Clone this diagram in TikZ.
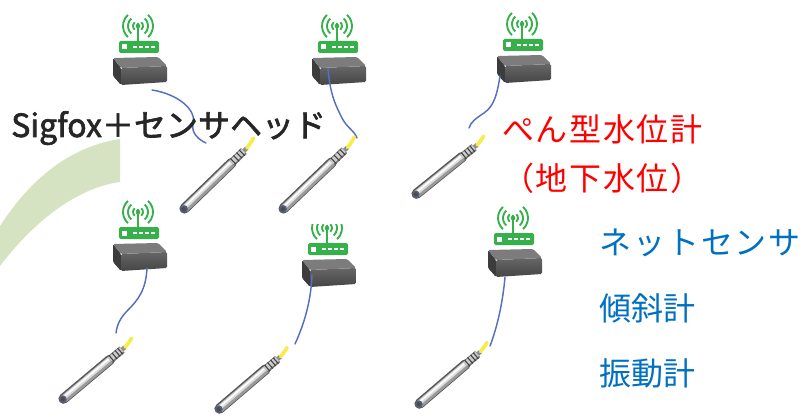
\documentclass[tikz,border=0pt]{standalone}
\usepackage{fontspec}
\newfontfamily\jp{Noto Sans CJK JP}
\newfontfamily\jpheavy[FakeBold=2]{Noto Sans CJK JP}
\definecolor{wifigreen}{HTML}{35B04A}
\definecolor{boxtop}{HTML}{7C7C7C}
\definecolor{boxfronttop}{HTML}{666666}
\definecolor{boxfrontbot}{HTML}{454545}
\definecolor{boxside}{HTML}{3C3C3C}
\definecolor{cableblue}{HTML}{5670C0}
\definecolor{capyellow}{HTML}{F6EC4C}
\definecolor{leafgreen}{HTML}{D5E3C2}
\definecolor{labelred}{HTML}{FF0000}
\definecolor{labelblue}{HTML}{0070C0}
\definecolor{penedge}{HTML}{555555}
\definecolor{penmid}{HTML}{9A9A9A}
\definecolor{penlight}{HTML}{DCDCDC}
\definecolor{pentip}{HTML}{55607A}
\tikzset{
  label text/.style={anchor=base west, inner sep=0pt, font=\jp\fontsize{24}{28}\selectfont},
  cable/.style={draw=cableblue, line width=1.1pt, line cap=round},
  % wireless router: antenna waves, green status bar, grey housing
  router/.pic={
    \foreach \r in {5,10,15}{
      \draw[wifigreen, line width=1.4pt] (0,-31) ++(-48:\r) arc[start angle=-48, end angle=48, radius=\r];
      \draw[wifigreen, line width=1.4pt] (0,-31) ++(132:\r) arc[start angle=132, end angle=228, radius=\r];
    }
    \draw[wifigreen, line width=1.5pt] (0,-34) -- (0,-16);
    \fill[wifigreen] (0,-31) circle (2.3);
    \fill[wifigreen, rounded corners=1.2] (-19,-16) rectangle (21,-4);
    \fill[white] (-16,-12.5) rectangle (-11.5,-7.5);
    \foreach \x in {-3,3,9,15} \fill[white] (\x-1.6,-11) rectangle (\x+1.6,-9);
    \fill[boxside, rounded corners=1] (-25,1) -- (-17,11) -- (-17,28) -- (-25,19) -- cycle;
    \shade[top color=boxfronttop, bottom color=boxfrontbot, rounded corners=1]
      (-17,11) -- (29,9) -- (29,25) -- (-17,28) -- cycle;
    \fill[boxtop, rounded corners=1] (-25,1) -- (20,0) -- (29,9) -- (-17,11) -- cycle;
  },
  % pen-shaped water level probe, drawn along its own x axis from the tip
  pen/.pic={
    \draw[line width=7.6pt, penedge, line cap=round] (2,0) -- (64,0);
    \draw[line width=6pt, penmid] (2,0.3) -- (64,0.3);
    \draw[line width=3.4pt, penlight] (3,-0.8) -- (64,-0.8);
    \draw[line width=1.2pt, white] (5,-1.3) -- (63,-1.3);
    \fill[pentip] (1.2,0) circle (3.9);
    \fill[black!70] (1.0,0) circle (2.2);
    \draw[line width=6pt, black!55] (64,0) -- (80,0);
    \draw[line width=4pt, black!20] (64,-0.4) -- (80,-0.4);
    \foreach \x in {66,70,74,77.5} \draw[line width=0.8pt, black!75] (\x,-4) -- (\x,4);
    \draw[line width=3.2pt, black!45] (80,0) -- (84,0);
    \draw[line width=2.8pt, capyellow, line cap=round] (84,0) .. controls (88,-0.6) .. (95,-2.6);
  }
}
\begin{document}
\begin{tikzpicture}[x=0.75pt, y=-0.75pt, line join=round]
\useasboundingbox (0,0) rectangle (805,417);

% curved green band on the left
\fill[leafgreen] (120,139) .. controls (60,148) and (22,192) .. (0,226)
  -- (0,266) .. controls (32,224) and (75,188) .. (120,182) -- cycle;

% routers
\pic (r1) at (138,57) {router};
\pic (r2) at (337,57) {router};
\pic (r3) at (522,55) {router};
\pic (r4) at (138,243) {router};
\begin{scope}
  \clip (280,224) rectangle (380,300);
  \pic (r5) at (327,259) {router};
\end{scope}
\pic (r6) at (513,249) {router};

% cable ends
\coordinate (c1s) at (152,90);  \coordinate (c1e) at (206,143);
\coordinate (c2s) at (328,68);  \coordinate (c2e) at (357,138);
\coordinate (c3s) at (500,76);  \coordinate (c3e) at (469,128);
\coordinate (c4s) at (147,268); \coordinate (c4e) at (116,333);
\coordinate (c5s) at (312,275); \coordinate (c5e) at (295,344);
\coordinate (c6s) at (505,277); \coordinate (c6e) at (490,346);

% cables
\draw[cable] (c1s) .. controls (178,94) and (197,110) .. (193,124) .. controls (191,133) and (199,140) .. (c1e);
\draw[cable] (c2s) .. controls (330,95) and (336,106) .. (342,118) .. controls (347,128) and (354,130) .. (c2e);
\draw[cable] (c3s) .. controls (497,95) and (494,106) .. (484,113) .. controls (475,119) and (471,122) .. (c3e);
\draw[cable] (c4s) .. controls (146,290) and (138,300) .. (128,310) .. controls (120,318) and (117,325) .. (c4e);
\draw[cable] (c5s) .. controls (311,300) and (305,322) .. (c5e);
\draw[cable] (c6s) .. controls (503,300) and (498,325) .. (c6e);

% probes
\pic[rotate=44.1, xscale=1.06] (p1) at (183,210) {pen};
\pic[rotate=43.7, xscale=1.08] (p2) at (282,210) {pen};
\pic[rotate=38.9, xscale=0.95] (p3) at (415,195) {pen};
\pic[rotate=40.0, xscale=0.98] (p4) at (62,400) {pen};
\pic[rotate=40.5, xscale=0.98] (p5) at (218,410) {pen};
\pic[rotate=40.5, xscale=0.98] (p6) at (418,405) {pen};

% labels
\node[label text, text=black!85, font=\jpheavy\fontsize{24}{28}\selectfont] (title) at (11,137) {Sigfox＋センサヘッド};
\node[label text, text=labelred, font=\jp\fontsize{24}{28}\selectfont\addfontfeature{LetterSpace=5}] (probe) at (502,142) {ぺん型水位計};
\node[label text, text=labelred, font=\jp\fontsize{24}{28}\selectfont\addfontfeature{LetterSpace=5}] (probe2) at (502,190) {（地下水位）};
\node[label text, text=labelblue, font=\jp\fontsize{24}{28}\selectfont\addfontfeature{LetterSpace=6}] (net) at (599,254) {ネットセンサ};
\node[label text, text=labelblue] (tilt) at (599,320) {傾斜計};
\node[label text, text=labelblue] (vib) at (599,385) {振動計};
\end{tikzpicture}
\end{document}
